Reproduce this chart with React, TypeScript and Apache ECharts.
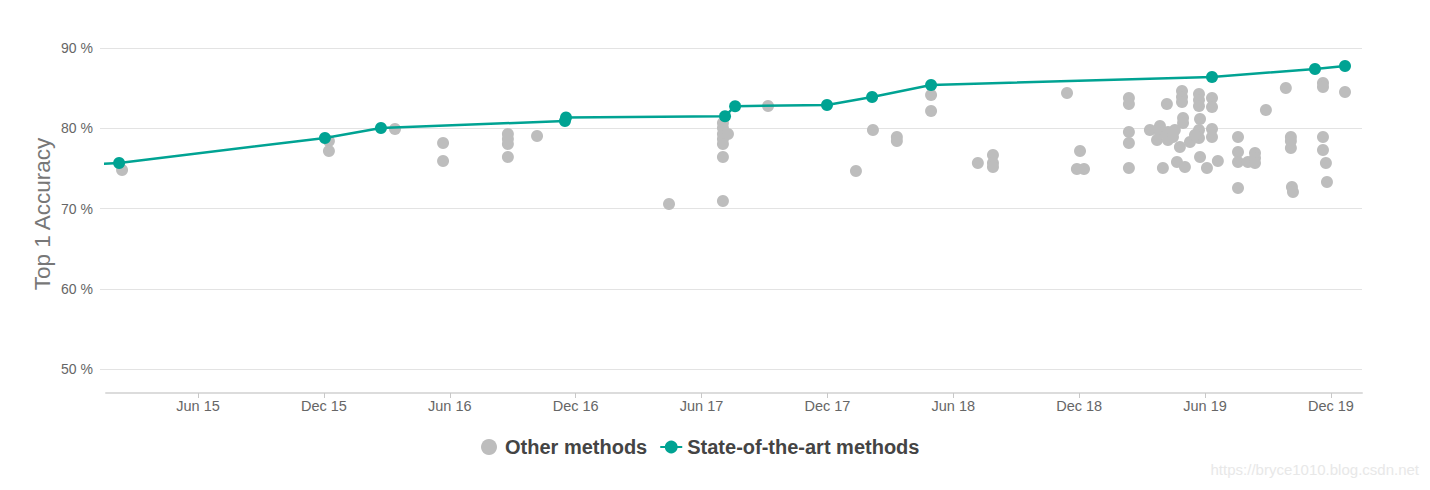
import React, { useEffect, useRef } from "react";
import * as echarts from "echarts";

// x values: months since Jan 2015 (fractional); y values: Top 1 accuracy in %
const xTickMonths = [5, 11, 17, 23, 29, 35, 41, 47, 53, 59];
const yTicks = [50, 60, 70, 80, 90];

const otherMethods: [number, number][] = [
  [1.38, 74.8],
  [11.24, 78.41], [11.24, 77.17],
  [14.39, 79.91],
  [16.68, 78.16], [16.68, 75.92],
  [19.77, 79.28], [19.77, 78.66], [19.77, 78.04], [19.77, 76.42],
  [21.16, 79.03],
  [27.45, 70.56],
  [30.02, 70.93],
  [30.02, 80.65], [30.02, 80.03], [30.02, 79.28], [30.02, 78.66], [30.02, 78.04], [30.02, 76.42],
  [30.26, 79.28],
  [32.17, 82.77],
  [36.36, 74.67],
  [37.17, 79.78],
  [38.31, 78.91], [38.31, 78.41],
  [39.94, 84.14], [39.94, 82.15],
  [42.17, 75.67],
  [42.89, 76.67], [42.89, 75.67], [42.89, 75.17],
  [46.42, 84.39],
  [47.04, 77.17],
  [46.89, 74.92], [47.23, 74.92],
  [49.37, 83.77], [49.37, 83.02], [49.37, 79.53], [49.37, 78.16], [49.37, 75.05],
  [51.18, 83.02],
  [50.37, 79.78],
  [50.85, 80.28], [50.85, 79.41],
  [50.71, 78.54],
  [51.23, 78.54], [51.23, 79.53],
  [51.56, 79.78], [51.47, 78.91],
  [51.9, 84.64], [51.9, 83.89], [51.9, 83.27],
  [51.95, 81.28], [51.95, 80.65],
  [51.8, 77.66],
  [51.66, 75.79],
  [52.04, 75.17],
  [50.99, 75.05],
  [52.28, 78.29],
  [52.71, 84.27], [52.71, 83.52], [52.71, 82.77],
  [52.76, 81.15],
  [52.71, 79.78], [52.71, 78.79],
  [52.52, 79.16],
  [53.33, 83.77], [53.33, 82.65], [53.33, 79.91], [53.33, 78.91],
  [52.76, 76.42],
  [53.09, 75.05],
  [53.61, 75.92],
  [54.57, 78.91], [54.57, 77.04], [54.57, 75.79], [54.57, 72.55],
  [55.04, 75.79],
  [55.38, 76.92], [55.38, 76.29], [55.38, 75.67],
  [55.9, 82.27],
  [56.85, 85.02],
  [57.09, 78.91], [57.09, 78.41], [57.09, 77.54],
  [57.14, 72.68], [57.19, 72.06],
  [58.62, 85.64], [58.62, 85.14],
  [58.62, 78.91], [58.62, 77.29],
  [58.76, 75.67],
  [58.81, 73.3],
  [59.67, 84.52],
];

const sotaMethods: [number, number][] = [
  [-2, 75.3],
  [1.24, 75.67],
  [11.05, 78.79],
  [13.72, 80.03],
  [22.49, 80.9],
  [22.54, 81.35],
  [30.12, 81.5],
  [30.6, 82.75],
  [34.98, 82.9],
  [37.13, 83.9],
  [39.94, 85.39],
  [53.33, 86.39],
  [58.24, 87.38],
  [59.67, 87.76],
];

const legendNames = ["Other methods", "State-of-the-art methods"];
const yAxisTitle = "Top 1 Accuracy";
const watermark = "https://bryce1010.blog.csdn.net";

const monthLabel = (v: number) => {
  const yr = 15 + Math.floor(v / 12);
  return (Math.round(v) % 12 === 5 ? "Jun " : "Dec ") + yr;
};

export default function App() {
  const ref = useRef<HTMLDivElement>(null);
  useEffect(() => {
    if (!ref.current) return;
    const chart = echarts.init(ref.current, undefined, { renderer: "svg" });
    const font = "Liberation Sans, Arial, sans-serif";
    chart.setOption({
      animation: false,
      textStyle: { fontFamily: font },
      grid: { left: 106, right: 68, top: 48, bottom: 121, containLabel: false },
      legend: {
        left: 476,
        top: 432,
        itemWidth: 22,
        itemHeight: 16,
        itemGap: 12,
        textStyle: { fontSize: 20, fontWeight: "bold", color: "#444", fontFamily: font },
        data: [
          { name: legendNames[0], icon: "circle" },
          { name: legendNames[1] },
        ],
      },
      xAxis: {
        type: "value",
        min: 0.615,
        max: 60.48,
        offset: 24,
        axisLine: { show: true, lineStyle: { color: "#dcdcdc", width: 2 } },
        axisTick: {
          show: true,
          customValues: xTickMonths,
          length: 5,
          lineStyle: { color: "#c8c8c8" },
        },
        axisLabel: {
          customValues: xTickMonths,
          formatter: (v: number) => monthLabel(v),
          fontSize: 14.5,
          color: "#666",
          margin: 5,
        },
        splitLine: { show: false },
      },
      yAxis: {
        type: "value",
        min: yTicks[0],
        max: yTicks[yTicks.length - 1],
        interval: 10,
        axisLine: { show: false },
        axisTick: { show: true, length: 6, lineStyle: { color: "#e3e3e3" } },
        axisLabel: { formatter: "{value} %", fontSize: 14, color: "#666", margin: 13 },
        splitLine: { show: true, lineStyle: { color: "#e3e3e3", width: 1 } },
      },
      graphic: [
        {
          type: "text",
          x: 42,
          y: 214,
          rotation: Math.PI / 2,
          style: {
            text: yAxisTitle,
            fontSize: 22.5,
            fill: "#777",
            fontFamily: font,
            textAlign: "center",
            textVerticalAlign: "middle",
          },
        },
        {
          type: "text",
          right: 11,
          top: 462,
          style: {
            text: watermark,
            fontSize: 15,
            fill: "#e8e8e8",
            fontFamily: font,
          },
        },
      ],
      series: [
        {
          name: legendNames[0],
          type: "scatter",
          data: otherMethods,
          symbol: "circle",
          symbolSize: 12,
          itemStyle: { color: "#bdbdbd", opacity: 1 },
          z: 2,
          emphasis: { disabled: true },
        },
        {
          name: legendNames[1],
          type: "line",
          data: sotaMethods,
          symbol: "circle",
          symbolSize: 12,
          showSymbol: true,
          clip: true,
          lineStyle: { color: "#00a393", width: 2.5 },
          itemStyle: { color: "#00a393" },
          z: 3,
          emphasis: { disabled: true },
        },
      ],
    });
    return () => chart.dispose();
  }, []);
  return (
    <div
      ref={ref}
      style={{ position: "absolute", left: 0, top: 0, width: 1430, height: 490, background: "#fff" }}
    />
  );
}
